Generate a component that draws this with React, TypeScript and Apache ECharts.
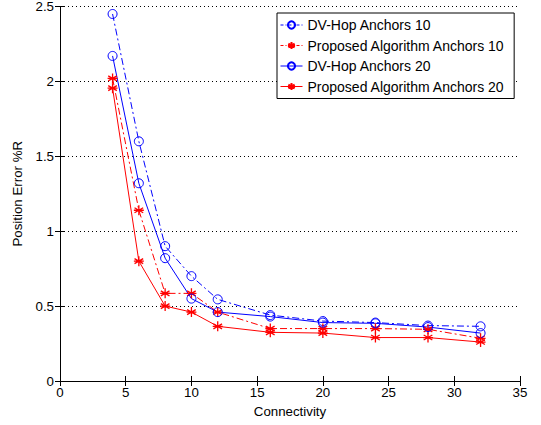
import React, { useEffect, useRef } from "react";
import * as echarts from "echarts";

const connectivity = [4, 6, 8, 10, 12, 16, 20, 24, 28, 32];
const dvHop10 = [2.45, 1.6, 0.9, 0.7, 0.545, 0.44, 0.4, 0.39, 0.37, 0.365];
const proposed10 = [2.02, 1.14, 0.585, 0.585, 0.46, 0.35, 0.35, 0.35, 0.345, 0.285];
const dvHop20 = [2.17, 1.32, 0.82, 0.55, 0.46, 0.43, 0.39, 0.385, 0.36, 0.32];
const proposed20 = [1.955, 0.8, 0.5, 0.46, 0.365, 0.325, 0.32, 0.29, 0.29, 0.26];
const seriesNames = [
  "DV-Hop Anchors 10",
  "Proposed Algorithm Anchors 10",
  "DV-Hop Anchors 20",
  "Proposed Algorithm Anchors 20",
];

const BLUE = "#0000ff";
const RED = "#ff0000";
const STAR = "path://M0,-5L0,5M-4.33,-2.5L4.33,2.5M-4.33,2.5L4.33,-2.5M-5,0L5,0";
const FONT = "Liberation Sans, Arial, sans-serif";
const DASH_DOT = [7, 3, 2, 3];

const pair = (ys: number[]) => connectivity.map((x, i) => [x, ys[i]]);

export default function App() {
  const ref = useRef<HTMLDivElement>(null);
  useEffect(() => {
    if (!ref.current) return;
    const chart = echarts.init(ref.current, undefined, { renderer: "svg" });
    const mk = (name: string, data: number[], color: string, dashed: boolean, star: boolean) => ({
      name,
      type: "line",
      data: pair(data),
      xAxisIndex: 0,
      yAxisIndex: 0,
      symbol: star ? STAR : "circle",
      symbolSize: star ? 10 : 9,
      showSymbol: true,
      lineStyle: { color, width: 1, type: dashed ? DASH_DOT : "solid" },
      itemStyle: star
        ? { color: "none", borderColor: color, borderWidth: 1.3 }
        : { color: "none", borderColor: color, borderWidth: 1 },
      emphasis: { disabled: true },
    });
    const axisLine = { show: true, lineStyle: { color: "#000", width: 1 } };
    const tick = { show: true, inside: true, length: 5, lineStyle: { color: "#000" } };
    const styles = [
      [BLUE, true],
      [RED, true],
      [BLUE, false],
      [RED, false],
    ] as const;
    chart.setOption({
      animation: false,
      backgroundColor: "#fff",
      textStyle: { fontFamily: FONT },
      grid: { left: 60, right: 21, top: 5, bottom: 44, containLabel: false },
      legend: {
        orient: "vertical",
        left: 277,
        top: 13,
        padding: [5, 9, 5, 3],
        itemGap: 6.5,
        itemWidth: 22,
        itemHeight: 9,
        backgroundColor: "#fff",
        borderColor: "#000",
        borderWidth: 1,
        borderRadius: 0,
        textStyle: { fontSize: 14, color: "#000", fontFamily: FONT },
        data: seriesNames.map((n, i) => ({
          name: n,
          lineStyle: { color: styles[i][0], width: 1, type: styles[i][1] ? [3, 2, 1, 2] : "solid" },
        })),
      },
      xAxis: [
        {
          type: "value",
          min: 0,
          max: 35,
          interval: 5,
          name: "Connectivity",
          nameLocation: "middle",
          nameGap: 24,
          nameTextStyle: { fontSize: 13.3, color: "#000" },
          axisLine,
          axisTick: tick,
          axisLabel: { fontSize: 13.3, color: "#000", margin: 5 },
          splitLine: { show: false },
        },
        {
          type: "value",
          position: "top",
          min: 0,
          max: 35,
          interval: 5,
          axisLine,
          axisTick: tick,
          axisLabel: { show: false },
          splitLine: { show: false },
        },
      ],
      yAxis: [
        {
          type: "value",
          min: 0,
          max: 2.5,
          interval: 0.5,
          name: "Position Error %R",
          nameLocation: "middle",
          nameGap: 36,
          nameTextStyle: { fontSize: 13.3, color: "#000" },
          axisLine,
          axisTick: tick,
          axisLabel: { fontSize: 13.3, color: "#000", margin: 6 },
          splitLine: { show: true, lineStyle: { color: "#000", width: 1, type: [1, 3] } },
        },
        {
          type: "value",
          position: "right",
          min: 0,
          max: 2.5,
          interval: 0.5,
          axisLine,
          axisTick: tick,
          axisLabel: { show: false },
          splitLine: { show: false },
        },
      ],
      series: [
        mk(seriesNames[0], dvHop10, BLUE, true, false),
        mk(seriesNames[1], proposed10, RED, true, true),
        mk(seriesNames[2], dvHop20, BLUE, false, false),
        mk(seriesNames[3], proposed20, RED, false, true),
      ],
    });
    return () => chart.dispose();
  }, []);
  return <div ref={ref} style={{ width: 541, height: 425, position: "absolute", left: 0, top: 0 }} />;
}
